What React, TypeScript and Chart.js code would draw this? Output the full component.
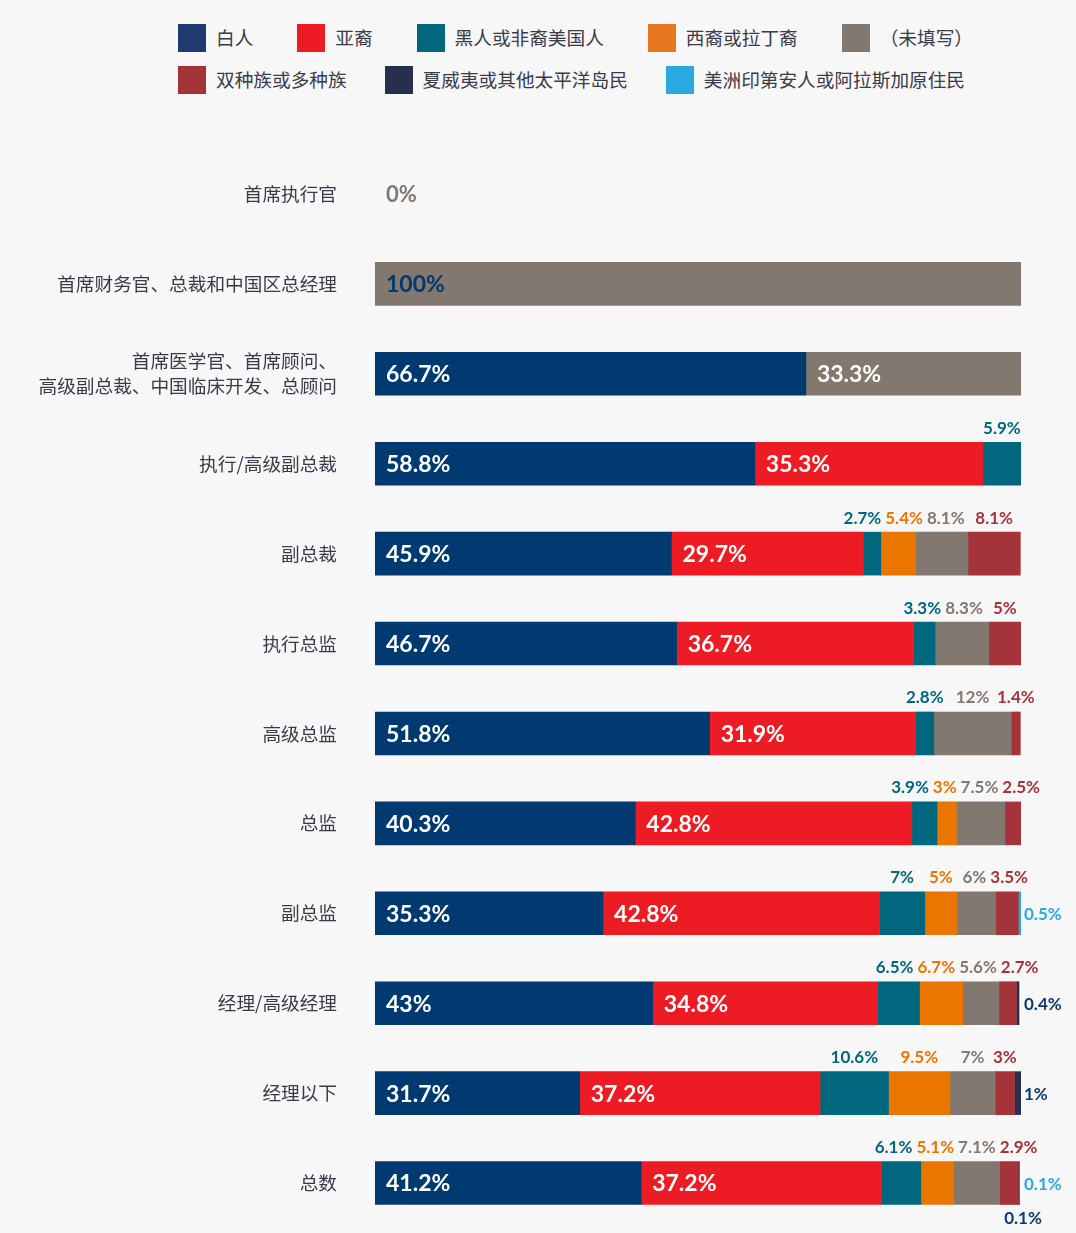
import React, { useEffect, useRef } from "react";
import { Chart, registerables } from "chart.js";

Chart.register(...registerables);

// ---------- data ----------
const categories: (string | string[])[] = [
  "首席执行官",
  "首席财务官、总裁和中国区总经理",
  ["首席医学官、首席顾问、", "高级副总裁、中国临床开发、总顾问"],
  "执行/高级副总裁",
  "副总裁",
  "执行总监",
  "高级总监",
  "总监",
  "副总监",
  "经理/高级经理",
  "经理以下",
  "总数",
];

const seriesNames = [
  "白人",
  "亚裔",
  "黑人或非裔美国人",
  "西裔或拉丁裔",
  "（未填写）",
  "双种族或多种族",
  "夏威夷或其他太平洋岛民",
  "美洲印第安人或阿拉斯加原住民",
];

const white = [0, 0, 66.7, 58.8, 45.9, 46.7, 51.8, 40.3, 35.3, 43, 31.7, 41.2];
const asian = [0, 0, 0, 35.3, 29.7, 36.7, 31.9, 42.8, 42.8, 34.8, 37.2, 37.2];
const black = [0, 0, 0, 5.9, 2.7, 3.3, 2.8, 3.9, 7, 6.5, 10.6, 6.1];
const hispanic = [0, 0, 0, 0, 5.4, 0, 0, 3, 5, 6.7, 9.5, 5.1];
const undisclosed = [0, 100, 33.3, 0, 8.1, 8.3, 12, 7.5, 6, 5.6, 7, 7.1];
const multiracial = [0, 0, 0, 0, 8.1, 5, 1.4, 2.5, 3.5, 2.7, 3, 2.9];
const pacific = [0, 0, 0, 0, 0, 0, 0, 0, 0, 0.4, 1, 0.1];
const nativeAm = [0, 0, 0, 0, 0, 0, 0, 0, 0.5, 0, 0, 0.1];

const seriesValues = [white, asian, black, hispanic, undisclosed, multiracial, pacific, nativeAm];

// ---------- styles ----------
const barColors = ["#003a70", "#ed1c24", "#00677f", "#ea7600", "#83786f", "#a4343a", "#262f4b", "#29a9e0"];
const legendColors = ["#1e3a6e", "#ed1c24", "#00677f", "#e87722", "#83786f", "#a4343a", "#262f4b", "#29a9e0"];
const outsideLabelColors = ["#003a70", "#ed1c24", "#00677f", "#ea7600", "#83786f", "#a4343a", "#0d3a6b", "#29a9e0"];
const TEXT_COLOR = "#3a3a4a";
const CJK = '"Noto Sans CJK SC", "Noto Sans", sans-serif';
const NUM = 'Lato, "Open Sans", sans-serif';

const fmt = (v: number) => `${v}%`;

const labelPlugin = {
  id: "segLabels",
  afterDatasetsDraw(chart: any) {
    const ctx: CanvasRenderingContext2D = chart.ctx;
    const area = chart.chartArea;
    const xs = chart.scales.x;
    const ys = chart.scales.y;
    ctx.save();
    ctx.textBaseline = "middle";
    categories.forEach((_, r) => {
      const yC = ys.getPixelForValue(r);
      const total = seriesValues.reduce((s, arr) => s + arr[r], 0);
      if (total === 0) {
        ctx.font = `bold 22px ${NUM}`;
        ctx.fillStyle = outsideLabelColors[4];
        ctx.textAlign = "left";
        ctx.fillText("0%", xs.getPixelForValue(0) + 11, yC + 1);
        return;
      }
      const above: any[] = [];
      const tiny: any[] = [];
      seriesValues.forEach((arr, i) => {
        const v = arr[r];
        if (!v) return;
        const el: any = chart.getDatasetMeta(i).data[r];
        const l = Math.min(el.x, el.base);
        const rr = Math.max(el.x, el.base);
        const top = el.y - el.height / 2;
        const bottom = el.y + el.height / 2;
        if (v >= 20) {
          ctx.font = `bold 23px ${NUM}`;
          ctx.fillStyle = v === 100 ? barColors[0] : "#ffffff";
          ctx.textAlign = "left";
          ctx.fillText(fmt(v), l + 11, el.y + 1);
        } else if (i >= 6) {
          tiny.push({ i, v, l, rr, top, bottom, y: el.y });
        } else {
          above.push({ i, v, l, rr, top, y: el.y });
        }
      });

      // labels above the bar, with simple overlap relaxation
      ctx.font = `bold 17px ${NUM}`;
      const gap = 4;
      const maxRight = area.right + 19;
      const items = above.map((a) => ({
        ...a,
        txt: fmt(a.v),
        w: ctx.measureText(fmt(a.v)).width,
        cx: (a.l + a.rr) / 2,
      }));
      for (let it = 0; it < 120; it++) {
        for (let k = 0; k < items.length - 1; k++) {
          const a = items[k];
          const b = items[k + 1];
          const ov = a.cx + a.w / 2 + gap - (b.cx - b.w / 2);
          if (ov > 0) {
            a.cx -= ov / 2;
            b.cx += ov / 2;
          }
        }
        items.forEach((a) => {
          if (a.cx + a.w / 2 > maxRight) a.cx = maxRight - a.w / 2;
        });
      }
      ctx.textAlign = "center";
      items.forEach((a) => {
        ctx.fillStyle = outsideLabelColors[a.i];
        ctx.fillText(a.txt, a.cx, a.top - 14);
      });

      // tiny segments
      tiny.forEach((t, k) => {
        ctx.fillStyle = outsideLabelColors[t.i];
        if (tiny.length === 2 && k === 0) {
          ctx.textAlign = "center";
          ctx.fillText(fmt(t.v), t.rr + 4, t.bottom + 14);
        } else {
          ctx.textAlign = "left";
          ctx.fillText(fmt(t.v), area.right + 3, t.y + 1);
        }
      });
    });
    ctx.restore();
  },
};

function Legend() {
  const rows = [
    { idx: [0, 1, 2, 3, 4], width: 795, top: 24 },
    { idx: [5, 6, 7], width: 787, top: 66 },
  ];
  return (
    <>
      {rows.map((row, ri) => (
        <div
          key={ri}
          style={{
            position: "absolute",
            left: 178,
            top: row.top,
            width: row.width,
            display: "flex",
            justifyContent: "space-between",
            alignItems: "center",
          }}
        >
          {row.idx.map((i) => (
            <div key={i} style={{ display: "flex", alignItems: "center" }}>
              <span
                style={{
                  display: "inline-block",
                  width: 28,
                  height: 28,
                  background: legendColors[i],
                  marginRight: 10,
                }}
              />
              <span
                style={{
                  fontFamily: CJK,
                  fontSize: 18.67,
                  color: TEXT_COLOR,
                  lineHeight: "28px",
                  whiteSpace: "nowrap",
                  position: "relative",
                  top: -1,
                }}
              >
                {seriesNames[i]}
              </span>
            </div>
          ))}
        </div>
      ))}
    </>
  );
}

export default function App() {
  const canvasRef = useRef<HTMLCanvasElement | null>(null);

  useEffect(() => {
    document.body.style.margin = "0";
    document.body.style.background = "#f7f7f7";
    const canvas = canvasRef.current;
    if (!canvas) return;
    const chart = new Chart(canvas, {
      type: "bar",
      data: {
        labels: categories as any,
        datasets: seriesValues.map((arr, i) => ({
          label: seriesNames[i],
          data: arr.map((v) => (v === 0 ? null : v)),
          backgroundColor: barColors[i],
          borderWidth: 0,
          barThickness: 43,
          inflateAmount: 0.3,
        })),
      },
      options: {
        indexAxis: "y",
        responsive: false,
        animation: false,
        devicePixelRatio: 1,
        layout: { padding: { top: 149, bottom: 5, left: 0, right: 55 } },
        plugins: {
          legend: { display: false },
          tooltip: { enabled: false },
        },
        scales: {
          x: {
            stacked: true,
            min: 0,
            max: 100,
            display: false,
          },
          y: {
            stacked: true,
            grid: { display: false, drawTicks: false },
            border: { display: false },
            ticks: {
              color: TEXT_COLOR,
              padding: 38,
              font: { family: CJK, size: 18.67, lineHeight: 1.35 },
            },
            afterFit: (scale: any) => {
              scale.width = 375;
              scale.paddingTop = 0;
              scale.paddingBottom = 0;
            },
          },
        },
      },
      plugins: [labelPlugin],
    });
    return () => chart.destroy();
  }, []);

  return (
    <div style={{ position: "relative", width: 1076, height: 1233, background: "#f7f7f7", overflow: "hidden" }}>
      <Legend />
      <canvas
        ref={canvasRef}
        width={1076}
        height={1233}
        style={{ position: "absolute", left: 0, top: 0, width: 1076, height: 1233 }}
      />
    </div>
  );
}
